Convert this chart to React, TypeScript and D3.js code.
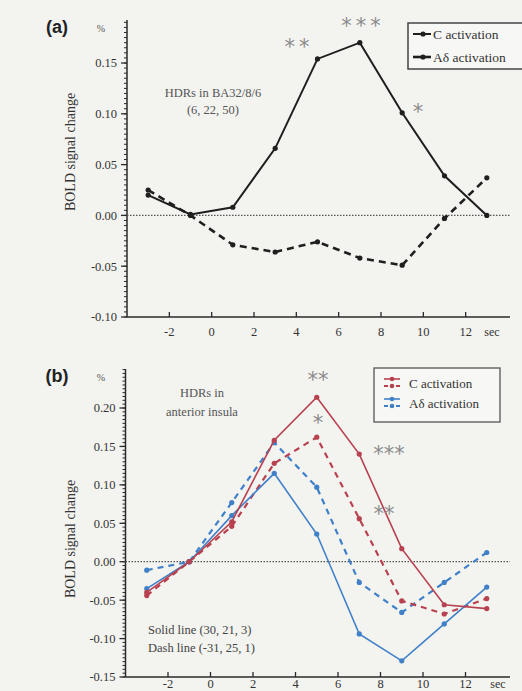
import React, { useRef, useEffect } from 'react';
import * as d3 from 'd3';

// seconds at which the HDR was sampled
const secs = [-3, -1, 1, 3, 5, 7, 9, 11, 13];
const xTicks = [-2, 0, 2, 4, 6, 8, 10, 12];

// (a) BA32/8/6
const aC = [0.020, 0.001, 0.008, 0.066, 0.154, 0.170, 0.101, 0.039, 0.000];
const aAd = [0.025, 0.000, -0.029, -0.036, -0.026, -0.042, -0.049, -0.003, 0.037];
const aTicks = [-0.10, -0.05, 0.00, 0.05, 0.10, 0.15];

// (b) anterior insula, solid = (30,21,3), dash = (-31,25,1)
const bCSolid = [-0.040, 0.000, 0.052, 0.158, 0.214, 0.140, 0.017, -0.056, -0.061];
const bCDash = [-0.044, 0.000, 0.046, 0.128, 0.162, 0.056, -0.051, -0.068, -0.048];
const bAdSolid = [-0.035, 0.000, 0.060, 0.115, 0.036, -0.094, -0.129, -0.081, -0.033];
const bAdDash = [-0.011, 0.000, 0.077, 0.155, 0.097, -0.027, -0.066, -0.027, 0.012];
const bTicks = [-0.15, -0.10, -0.05, 0.00, 0.05, 0.10, 0.15, 0.20];

const RED = '#b8414f';
const BLUE = '#3f80c9';
const INK = '#2a2a2a';
const SERIF = '"Liberation Serif", "DejaVu Serif", serif';

export default function App() {
  const ref = useRef<SVGSVGElement>(null);

  useEffect(() => {
    const svg = d3.select(ref.current);
    svg.selectAll('*').remove();

    svg.append('rect').attr('width', 522).attr('height', 691).attr('fill', '#f3f3f0');

    const fmt = (t: number) => d3.format('.2f')(t).replace('\u2212', '-');

    const drawPanel = (opts: any) => {
      const { x, y, top, yTicks, label, labelY, secX, xLabelY } = opts;
      const g = svg.append('g').attr('font-family', SERIF);
      const x0 = x.range()[0];
      const yBottom = y.range()[0];

      // minor ticks every 0.005
      const lo = y.domain()[0];
      const hiVal = y.invert(top);
      for (let v = lo; v <= hiVal + 1e-9; v += 0.005) {
        g.append('line')
          .attr('x1', x0 - 3).attr('x2', x0)
          .attr('y1', y(v)).attr('y2', y(v))
          .attr('stroke', INK).attr('stroke-width', 1);
      }
      // y axis
      g.append('line')
        .attr('x1', x0).attr('x2', x0).attr('y1', top).attr('y2', yBottom)
        .attr('stroke', INK).attr('stroke-width', 1.5);
      yTicks.forEach((t: number) => {
        g.append('line')
          .attr('x1', x0 - 6).attr('x2', x0)
          .attr('y1', y(t)).attr('y2', y(t))
          .attr('stroke', INK).attr('stroke-width', 1.3);
        g.append('text')
          .attr('x', x0 - 10).attr('y', y(t)).attr('dy', '0.35em')
          .attr('text-anchor', 'end').attr('font-size', 12.5).attr('fill', '#333')
          .text(fmt(t));
      });
      // x axis
      g.append('line')
        .attr('x1', x0).attr('x2', 510).attr('y1', yBottom).attr('y2', yBottom)
        .attr('stroke', INK).attr('stroke-width', 1.5);
      xTicks.forEach(t => {
        g.append('line')
          .attr('x1', x(t)).attr('x2', x(t)).attr('y1', yBottom).attr('y2', yBottom - 5)
          .attr('stroke', INK).attr('stroke-width', 1.3);
        g.append('text')
          .attr('x', x(t)).attr('y', xLabelY).attr('dy', '0.35em')
          .attr('text-anchor', 'middle').attr('font-size', 12.5).attr('fill', '#333')
          .text(String(t).replace('\u2212', '-'));
      });
      g.append('text')
        .attr('x', secX).attr('y', xLabelY).attr('dy', '0.35em')
        .attr('text-anchor', 'middle').attr('font-size', 12).attr('fill', '#333')
        .text('sec');

      // zero reference
      g.append('line')
        .attr('x1', x0).attr('x2', 510).attr('y1', y(0)).attr('y2', y(0))
        .attr('stroke', '#555').attr('stroke-width', 1.2).attr('stroke-dasharray', '1.5 1.5');

      g.append('text')
        .attr('x', 101).attr('y', top + 12).attr('text-anchor', 'middle')
        .attr('font-size', 10).attr('fill', '#555').text('%');
      g.append('text')
        .attr('x', 57).attr('y', top + 13).attr('text-anchor', 'middle')
        .attr('font-family', '"Liberation Sans", Arial, sans-serif')
        .attr('font-weight', 'bold').attr('font-size', 18).attr('fill', '#222')
        .text(label);
      g.append('text')
        .attr('transform', `translate(70,${labelY}) rotate(-90)`)
        .attr('text-anchor', 'middle').attr('dy', '0.35em')
        .attr('font-size', 14).attr('fill', '#333')
        .text('BOLD signal change');
      return g;
    };

    const drawSeries = (g: any, x: any, y: any, vals: number[], color: string, dashed: boolean, w: number, dash: string) => {
      const pts = secs.map((s, i) => [s, vals[i]] as [number, number]);
      const line = d3.line<[number, number]>().x(d => x(d[0])).y(d => y(d[1]));
      g.append('path')
        .attr('d', line(pts))
        .attr('fill', 'none').attr('stroke', color).attr('stroke-width', w)
        .attr('stroke-dasharray', dashed ? dash : null);
      g.selectAll(null).data(pts).enter().append('circle')
        .attr('cx', (d: any) => x(d[0])).attr('cy', (d: any) => y(d[1]))
        .attr('r', 2.6).attr('fill', color);
    };

    const note = (g: any, xx: number, yy: number, txt: string, size: number, anchor = 'middle', fill = '#555') => {
      g.append('text').attr('x', xx).attr('y', yy).attr('dy', '0.35em')
        .attr('text-anchor', anchor).attr('font-size', size).attr('fill', fill).text(txt);
    };
    const stars = (g: any, xx: number, yy: number, txt: string, spacing: number) => {
      g.append('text').attr('x', xx).attr('y', yy + 7)
        .attr('text-anchor', 'middle').attr('font-size', 21).attr('fill', '#8a8a8a')
        .attr('letter-spacing', spacing)
        .attr('font-family', '"DejaVu Sans", sans-serif')
        .text(txt);
    };

    // ---------- panel (a)
    const xA = d3.scaleLinear().domain([-4, 14]).range([127, 508]);
    const yA = d3.scaleLinear().domain([-0.10, 0.15]).range([317, 63]);
    const gA = drawPanel({ x: xA, y: yA, top: 20, yTicks: aTicks, label: '(a)', labelY: 152, secX: 492, xLabelY: 332 });
    drawSeries(gA, xA, yA, aAd, '#1f1f1f', true, 2.6, '7 5');
    drawSeries(gA, xA, yA, aC, '#1f1f1f', false, 2, '');

    note(gA, 213, 93, 'HDRs in BA32/8/6', 12.5);
    note(gA, 213, 110, '(6, 22, 50)', 12.5);
    stars(gA, 299, 47, '**', 4);
    stars(gA, 363, 26, '***', 4);
    stars(gA, 418, 112, '*', 0);

    // legend (a)
    const legA = gA.append('g');
    legA.append('rect').attr('x', 408).attr('y', 23).attr('width', 118).attr('height', 46)
      .attr('fill', '#f7f7f5').attr('stroke', '#444').attr('stroke-width', 1.5);
    [['C activation', false, 34], ['A\u03b4 activation', true, 57]].forEach(([t, dashed, yy]: any) => {
      legA.append('line').attr('x1', 413).attr('x2', 431).attr('y1', yy).attr('y2', yy)
        .attr('stroke', '#1f1f1f').attr('stroke-width', dashed ? 2.6 : 2);
      legA.append('circle').attr('cx', 423).attr('cy', yy).attr('r', 2.6).attr('fill', '#1f1f1f');
      legA.append('text').attr('x', 433).attr('y', yy).attr('dy', '0.35em')
        .attr('font-size', 13.5).attr('fill', '#333').text(t);
    });

    // ---------- panel (b)
    const xB = d3.scaleLinear().domain([-4, 14]).range([125.5, 508]);
    const yB = d3.scaleLinear().domain([-0.15, 0.20]).range([677, 408]);
    const gB = drawPanel({ x: xB, y: yB, top: 369, yTicks: bTicks, label: '(b)', labelY: 539, secX: 498, xLabelY: 684 });
    drawSeries(gB, xB, yB, bAdDash, BLUE, true, 2.2, '6 5');
    drawSeries(gB, xB, yB, bCDash, RED, true, 2.2, '6 5');
    drawSeries(gB, xB, yB, bAdSolid, BLUE, false, 1.6, '');
    drawSeries(gB, xB, yB, bCSolid, RED, false, 1.6, '');

    note(gB, 202, 393, 'HDRs in', 12.5);
    note(gB, 202, 412, 'anterior insula', 12.5);
    stars(gB, 318, 380, '**', 0);
    stars(gB, 318, 423, '*', 0);
    stars(gB, 389, 454, '***', 0);
    stars(gB, 384, 514, '**', 0);
    note(gB, 148, 630, 'Solid line (30, 21, 3)', 12.5, 'start', '#444');
    note(gB, 148, 648, 'Dash line (-31, 25, 1)', 12.5, 'start', '#444');

    // legend (b)
    const legB = gB.append('g');
    legB.append('rect').attr('x', 374).attr('y', 368).attr('width', 126).attr('height', 54)
      .attr('fill', '#f7f7f5').attr('stroke', '#555').attr('stroke-width', 1.3);
    [['C activation', RED, 383], ['A\u03b4 activation', BLUE, 403]].forEach(([t, c, yy]: any) => {
      legB.append('line').attr('x1', 384).attr('x2', 400).attr('y1', yy - 4).attr('y2', yy - 4)
        .attr('stroke', c).attr('stroke-width', 1.6);
      legB.append('line').attr('x1', 384).attr('x2', 400).attr('y1', yy + 3).attr('y2', yy + 3)
        .attr('stroke', c).attr('stroke-width', 2).attr('stroke-dasharray', '4 2');
      legB.append('circle').attr('cx', 392).attr('cy', yy - 4).attr('r', 2.3).attr('fill', c);
      legB.append('circle').attr('cx', 392).attr('cy', yy + 3).attr('r', 2.3).attr('fill', c);
      legB.append('text').attr('x', 409).attr('y', yy).attr('dy', '0.35em')
        .attr('font-size', 13).attr('fill', '#333').text(t);
    });
  }, []);

  return (
    <div style={{ position: 'absolute', left: 0, top: 0 }}>
      <svg ref={ref} width={522} height={691} style={{ display: 'block' }} />
    </div>
  );
}
